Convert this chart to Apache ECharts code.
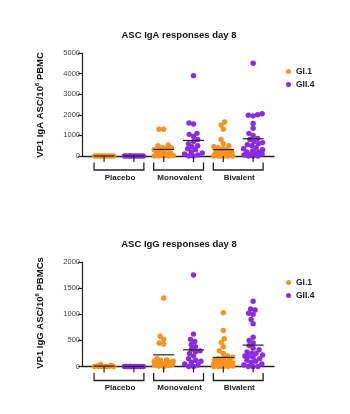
<!DOCTYPE html>
<html><head><meta charset="utf-8">
<script src="https://cdn.jsdelivr.net/npm/echarts@6/dist/echarts.min.js"></script>
<style>html,body{margin:0;padding:0;background:#fff}#c{width:350px;height:414px}</style>
</head><body><div id="c"></div>
<script>
// ---- categories ----
const groups = ['Placebo', 'Monovalent', 'Bivalent'];
const strains = ['GI.1', 'GII.4'];
const strainColors = ['#f7931e', '#8a2be2'];

// ---- IgA day 8 (ASC / 10^6 PBMC) ----
const igaPlaceboGI1 = [0, 0, 0, 0, 0, 0, 0, 0, 0, 0];
const igaPlaceboGII4 = [0, 0, 0, 0, 0, 0, 0, 0, 0, 0];
const igaMonoGI1 = [1300, 1300, 540, 500, 420, 400, 350, 300, 280, 200, 150, 120, 100, 60, 30, 0, 0, 0, 0];
const igaMonoGII4 = [3900, 1600, 1550, 1100, 1050, 950, 800, 700, 600, 500, 450, 350, 300, 200, 150, 100, 50, 0, 0];
const igaBiGI1 = [1650, 1500, 1300, 800, 600, 500, 450, 400, 350, 300, 250, 200, 200, 150, 150, 100, 100, 80, 60, 50, 40, 30, 20, 10, 0, 0, 0, 0, 0, 0];
const igaBiGII4 = [4500, 2050, 2000, 1980, 1950, 1580, 1350, 1100, 1000, 850, 800, 700, 650, 600, 550, 500, 400, 350, 300, 250, 200, 200, 150, 100, 100, 50, 0, 0, 0];

// ---- IgG day 8 (ASC / 10^6 PBMCs) ----
const iggPlaceboGI1 = [40, 20, 10, 0, 0, 0, 0, 0, 0, 0];
const iggPlaceboGII4 = [0, 0, 0, 0, 0, 0, 0, 0, 0, 0];
const iggMonoGI1 = [1310, 580, 520, 450, 430, 150, 130, 120, 100, 100, 80, 70, 60, 50, 40, 30, 20, 10, 0];
const iggMonoGII4 = [1750, 620, 520, 480, 420, 380, 330, 300, 280, 250, 200, 150, 120, 100, 80, 50, 30, 0, 0];
const iggBiGI1 = [1030, 690, 530, 460, 380, 300, 250, 200, 180, 160, 150, 130, 120, 100, 90, 80, 70, 60, 50, 40, 30, 30, 20, 20, 10, 10, 0, 0, 0, 0];
const iggBiGII4 = [1250, 1100, 1080, 1020, 1000, 900, 820, 560, 500, 450, 400, 350, 320, 280, 250, 220, 200, 180, 150, 120, 100, 80, 50, 30, 250, 200, 0, 0, 0];

// ---- axes ----
const igaTicks = [0, 1000, 2000, 3000, 4000, 5000];
const iggTicks = [0, 500, 1000, 1500, 2000];

// ---- layout ----
const FONT = '"Liberation Sans", Arial, Helvetica, sans-serif';
const XMIN = 0.26, XMAX = 6.7;
const panels = [
  { grid: { left: 82, top: 53, width: 192, height: 103 }, ticks: igaTicks,
    title: 'ASC IgA responses day 8', titleY: 35,
    yName: ['VP1 IgA ASC/10', '6', ' PBMC'], yNameY: 105, legendTop: 67,
    data: [[igaPlaceboGI1, igaMonoGI1, igaBiGI1], [igaPlaceboGII4, igaMonoGII4, igaBiGII4]] },
  { grid: { left: 82, top: 262, width: 192, height: 104.5 }, ticks: iggTicks,
    title: 'ASC IgG responses day 8', titleY: 244,
    yName: ['VP1 IgG ASC/10', '6', ' PBMCs'], yNameY: 313, legendTop: 278,
    data: [[iggPlaceboGI1, iggMonoGI1, iggBiGI1], [iggPlaceboGII4, iggMonoGII4, iggBiGII4]] }
];

// deterministic beeswarm layout (pixel space), limited to +-maxHalf
function swarmOffsets(values, pxPerVal, d, maxHalf) {
  const order = values.map((v, i) => i).sort((a, b) => values[a] - values[b]);
  const placed = [];
  const offs = new Array(values.length).fill(0);
  order.forEach(i => {
    const y = values[i] * pxPerVal;
    let best = null, bestScore = -1;
    let fitBest = null;
    for (let x = -maxHalf; x <= maxHalf + 1e-9; x += 0.25) {
      let md = Infinity;
      placed.forEach(p => {
        const dd = Math.hypot(p[0] - x, p[1] - y);
        if (dd < md) md = dd;
      });
      if (md >= d) {
        if (fitBest === null || Math.abs(x) < Math.abs(fitBest) - 1e-9) fitBest = x;
      }
      if (md > bestScore + 1e-9 || (Math.abs(md - bestScore) < 1e-9 && Math.abs(x) < Math.abs(best))) {
        bestScore = md; best = x;
      }
    }
    const x = fitBest !== null ? fitBest : best;
    offs[i] = x;
    placed.push([x, y]);
  });
  return offs;
}

const grids = [], xAxes = [], yAxes = [], series = [], legends = [], graphics = [];
panels.forEach((p, pi) => {
  grids.push(p.grid);
  const yMax = p.ticks[p.ticks.length - 1];
  const interval = p.ticks[1] - p.ticks[0];
  const xPx = p.grid.width / (XMAX - XMIN);
  const yPx = p.grid.height / yMax;
  xAxes.push({ type: 'value', gridIndex: pi, min: XMIN, max: XMAX,
    axisLine: { show: true, onZero: false, lineStyle: { color: '#222', width: 1.4 } },
    axisTick: { show: false }, axisLabel: { show: false }, splitLine: { show: false } });
  yAxes.push({ type: 'value', gridIndex: pi, min: 0, max: yMax, interval: interval,
    axisLine: { show: true, lineStyle: { color: '#222', width: 1.2 } },
    axisTick: { show: true, length: 4, lineStyle: { color: '#222', width: 1.2 } },
    axisLabel: { fontSize: 7.5, color: '#444', margin: 2, fontFamily: FONT, formatter: v => String(v) },
    splitLine: { show: false } });

  const means = [];
  p.data.forEach((byGroup, si) => {
    const pts = [];
    byGroup.forEach((vals, gi) => {
      const cx = 1 + gi * 2 + si;
      const offs = swarmOffsets(vals, yPx, 4.6, 9.5);
      vals.forEach((v, k) => pts.push([cx + offs[k] / xPx, v]));
      means.push([cx, vals.reduce((a, b) => a + b, 0) / vals.length]);
    });
    series.push({ type: 'scatter', name: strains[si], xAxisIndex: pi, yAxisIndex: pi,
      data: pts, symbol: 'circle', symbolSize: 5.4, itemStyle: { color: strainColors[si], opacity: 1 }, z: 2 });
  });

  series.push({ type: 'custom', xAxisIndex: pi, yAxisIndex: pi, z: 4, silent: true,
    data: means,
    renderItem: (params, api) => {
      const c = api.coord([api.value(0), api.value(1)]);
      return { type: 'line', shape: { x1: c[0] - 10.5, y1: c[1], x2: c[0] + 10.5, y2: c[1] },
        style: { stroke: '#222', lineWidth: 1.2 } };
    } });

  series.push({ type: 'custom', xAxisIndex: pi, yAxisIndex: pi, z: 4, silent: true, clip: false,
    data: groups.map((g, gi) => [1 + gi * 2, 2 + gi * 2, gi]),
    encode: { x: [0, 1] },
    renderItem: (params, api) => {
      const a = api.coord([api.value(0), 0]);
      const b = api.coord([api.value(1), 0]);
      const y0 = a[1];
      const x1 = a[0] - 10, x2 = b[0] + 10;
      return { type: 'group', children: [
        { type: 'line', shape: { x1: a[0], y1: y0, x2: a[0], y2: y0 + 6 }, style: { stroke: '#222', lineWidth: 1.2 } },
        { type: 'line', shape: { x1: b[0], y1: y0, x2: b[0], y2: y0 + 6 }, style: { stroke: '#222', lineWidth: 1.2 } },
        { type: 'polyline', shape: { points: [[x1, y0 + 6.5], [x1, y0 + 14], [x2, y0 + 14], [x2, y0 + 6.5]] },
          style: { stroke: '#222', lineWidth: 1.3, fill: null } },
        { type: 'text', x: (x1 + x2) / 2 + 1, y: y0 + 21.5,
          style: { text: groups[api.value(2)], fill: '#222', font: 'bold 8px ' + FONT, align: 'center', verticalAlign: 'middle' } }
      ] };
    } });

  legends.push({ left: 286, top: p.legendTop, orient: 'vertical', icon: 'circle', itemWidth: 5, itemHeight: 5,
    itemGap: 4, selectedMode: false, padding: 0, data: strains,
    textStyle: { fontSize: 8.5, fontWeight: 'bold', color: '#222', fontFamily: FONT } });

  graphics.push({ type: 'text', x: 179, y: p.titleY,
    style: { text: p.title, fill: '#111', font: 'bold 9.5px ' + FONT, align: 'center', verticalAlign: 'middle' } });
  graphics.push({ type: 'text', x: 40, y: p.yNameY, rotation: Math.PI / 2,
    style: { text: '{a|' + p.yName[0] + '}{s|' + p.yName[1] + '}{a|' + p.yName[2] + '}',
      align: 'center', verticalAlign: 'middle',
      rich: { a: { fontSize: 9.5, fontWeight: 'bold', fontFamily: FONT, fill: '#111', lineHeight: 12 },
              s: { fontSize: 6, fontWeight: 'bold', fontFamily: FONT, fill: '#111', lineHeight: 12, verticalAlign: 'top' } } } });
});

const chart = echarts.init(document.getElementById('c'), null, { renderer: 'canvas' });
chart.setOption({
  animation: false, backgroundColor: '#fff',
  grid: grids, xAxis: xAxes, yAxis: yAxes, series: series, legend: legends, graphic: graphics
});
</script></body></html>
